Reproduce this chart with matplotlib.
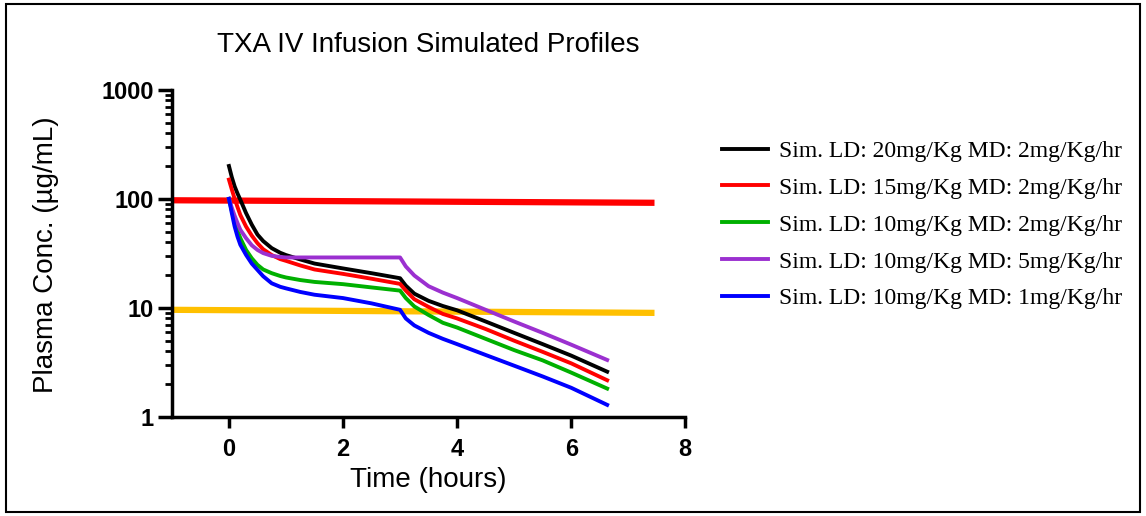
import numpy as np
import matplotlib.pyplot as plt
from matplotlib.patches import Rectangle
from matplotlib.ticker import LogLocator, NullFormatter

# Time points (hours)
t = [0, 0.05, 0.1, 0.15, 0.2, 0.3, 0.4, 0.5, 0.6, 0.75, 0.9, 1, 1.25, 1.5, 2, 2.5, 3,
     3.1, 3.25, 3.5, 3.75, 4, 4.5, 5, 5.5, 6, 6.63]

# Simulated plasma concentrations (ug/mL)
ld20_md2 = [200, 158, 130, 112, 98, 74, 58, 47, 41, 35.3, 32, 30.5, 27.8, 25.5, 23.0, 20.8, 18.7,
            16.0, 13.5, 11.6, 10.4, 9.5, 7.5, 5.9, 4.65, 3.65, 2.6]
ld15_md2 = [150, 122, 100, 84, 71, 55.7, 46, 39.2, 34.5, 30.5, 28, 27.0, 24.5, 22.5, 20.5, 18.5, 16.6,
            14.4, 12.0, 10.2, 8.8, 8.0, 6.4, 5.0, 3.95, 3.1, 2.17]
ld10_md2 = [100, 78, 62, 51, 43.6, 34, 28.5, 24.8, 22.5, 20.8, 19.6, 19.0, 18.0, 17.3, 16.5, 15.4, 14.4,
            12.3, 10.3, 8.6, 7.3, 6.6, 5.2, 4.1, 3.3, 2.55, 1.82]
ld10_md5 = [100, 83, 70, 60, 52, 43.6, 37.5, 34, 31.8, 30, 29.3, 29, 29, 29, 29, 29, 29,
            24, 19.8, 15.8, 13.8, 12.3, 9.6, 7.5, 5.9, 4.6, 3.33]
ld10_md1 = [100, 74, 55.7, 45, 37.9, 30.6, 25.5, 22.3, 19.5, 16.8, 15.6, 15.1, 14.0, 13.2, 12.3, 11.0, 9.6,
            8.0, 6.9, 5.9, 5.2, 4.65, 3.7, 2.95, 2.35, 1.85, 1.29]

labels = ['Sim. LD: 20mg/Kg MD: 2mg/Kg/hr',
          'Sim. LD: 15mg/Kg MD: 2mg/Kg/hr',
          'Sim. LD: 10mg/Kg MD: 2mg/Kg/hr',
          'Sim. LD: 10mg/Kg MD: 5mg/Kg/hr',
          'Sim. LD: 10mg/Kg MD: 1mg/Kg/hr']
colors = ['black', '#ff0000', '#00b000', '#9b30d0', '#0000ff']

# Reference threshold lines
ref_t = [-1, 7.46]
upper_ref = [97, 92]
lower_ref = [9.6, 9.0]

fig = plt.figure(figsize=(11.46, 5.16), dpi=100)
ax = fig.add_axes([0.150, 0.192, 0.448, 0.634])

ax.plot(ref_t, upper_ref, color='#ff0000', lw=4.5, solid_capstyle='butt')
ax.plot(ref_t, lower_ref, color='#ffc000', lw=4.5, solid_capstyle='butt')

for y, c, lab in zip([ld20_md2, ld15_md2, ld10_md2, ld10_md5, ld10_md1], colors, labels):
    ax.plot(t, y, color=c, lw=2.8, label=lab)

ax.set_yscale('log')
ax.set_ylim(1, 1000)
ax.set_xlim(-1, 8)
ax.set_xticks([0, 2, 4, 6, 8])
ax.set_yticks([1, 10, 100, 1000])
ax.set_yticklabels(['1', '10', '100', '1000'])
ax.yaxis.set_minor_locator(LogLocator(base=10, subs=np.arange(2, 10)))
ax.yaxis.set_minor_formatter(NullFormatter())

for side in ['top', 'right']:
    ax.spines[side].set_visible(False)
for side in ['left', 'bottom']:
    ax.spines[side].set_linewidth(2.5)
ax.tick_params(which='major', width=2.5, length=8, labelsize=17)
ax.tick_params(axis='y', which='major', length=10, pad=3)
ax.tick_params(axis='x', which='major', pad=7)
ax.tick_params(which='minor', width=2, length=5)
for lbl in ax.get_xticklabels() + ax.get_yticklabels():
    lbl.set_fontweight('bold')
    lbl.set_family('Liberation Sans')

fig.text(0.374, 0.912, 'TXA IV Infusion Simulated Profiles', fontsize=20,
         family='Liberation Sans', ha='center', va='center')
fig.text(0.374, 0.070, 'Time (hours)', fontsize=20,
         family='Liberation Sans', ha='center', va='center')
fig.text(0.040, 0.506, 'Plasma Conc. (µg/mL)', fontsize=20, rotation=90,
         family='Liberation Sans', ha='center', va='center')

ax.legend(loc='upper left', bbox_to_anchor=(0.630, 0.728), bbox_transform=fig.transFigure,
          frameon=False, borderpad=0, borderaxespad=0,
          prop={'family': 'Liberation Serif', 'size': 17}, handlelength=1.95,
          handletextpad=0.45, labelspacing=0.65)

fig.add_artist(Rectangle((0.005, 0.008), 0.99, 0.985, transform=fig.transFigure,
                         fill=False, edgecolor='black', lw=1.5))

fig.savefig('out.png', dpi=100)
